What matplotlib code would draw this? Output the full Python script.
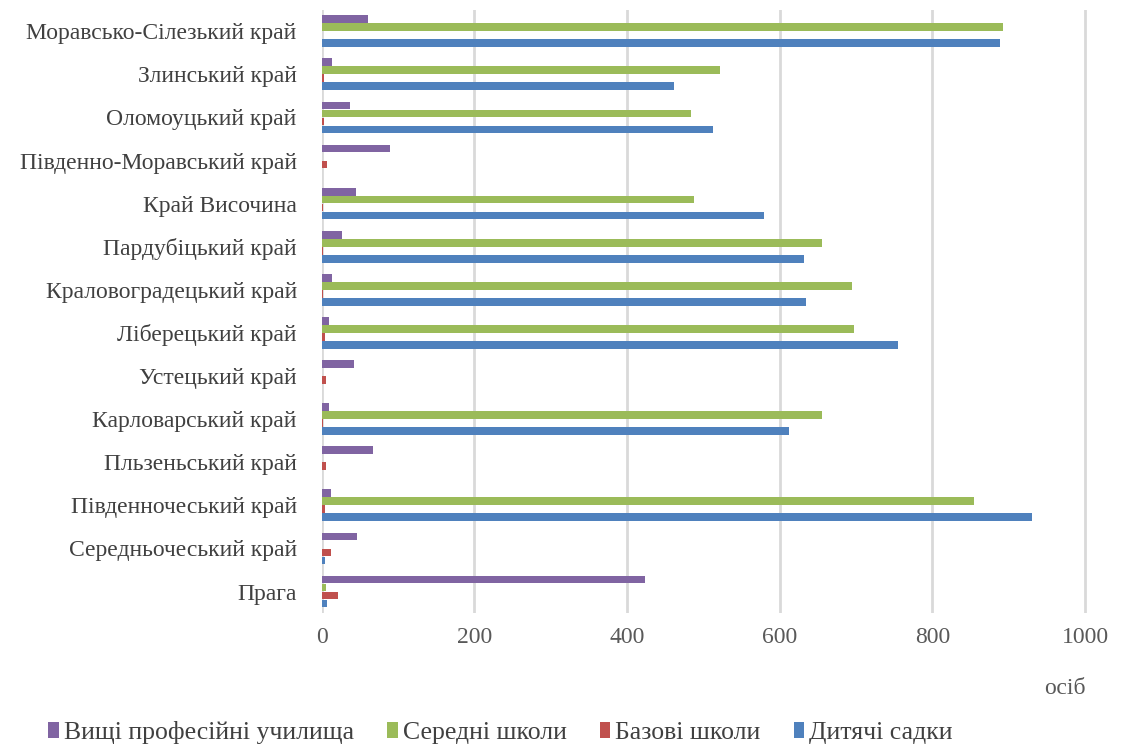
import numpy as np
import matplotlib.pyplot as plt

plt.rcParams['font.family'] = ['Liberation Serif', 'DejaVu Serif']

regions = ["Прага", "Середньочеський край", "Південночеський край", "Пльзеньський край",
           "Карловарський край", "Устецький край", "Ліберецький край", "Краловоградецький край",
           "Пардубіцький край", "Край Височина", "Південно-Моравський край", "Оломоуцький край",
           "Злинський край", "Моравсько-Сілезький край"]

# values in persons
kindergartens = [7, 4, 931, 0, 612, 0, 755, 635, 632, 579, 0, 512, 462, 888]
basic_schools = [21, 12, 4, 6, 2, 6, 4, 2, 2, 2, 7, 3, 3, 0]
secondary = [5, 0, 855, 0, 655, 0, 697, 695, 655, 488, 0, 484, 522, 892]
higher_prof = [423, 46, 12, 67, 9, 42, 9, 14, 26, 45, 90, 37, 13, 60]

series = [("Дитячі садки", kindergartens, "#4F81BD"),
          ("Базові школи", basic_schools, "#C0504D"),
          ("Середні школи", secondary, "#9BBB59"),
          ("Вищі професійні училища", higher_prof, "#8064A2")]

fig = plt.figure(figsize=(11.25, 7.44), dpi=100)
ax = fig.add_axes([0.286, 0.176, 0.692, 0.811])

y = np.arange(len(regions))
h = 0.185
bars = []
for i, (name, vals, col) in enumerate(series):
    b = ax.barh(y + (i - 1.5) * h, vals, height=h * 0.97, color=col, label=name, zorder=3)
    bars.append(b)

ax.set_xlim(0, 1020)
ax.set_ylim(-0.5, len(regions) - 0.5)
ax.set_xticks([0, 200, 400, 600, 800, 1000])
ax.set_yticks(y)
ax.set_yticklabels(regions, fontsize=17, color="#404040")
ax.tick_params(axis='x', labelsize=17, colors="#595959", length=0, pad=10)
ax.tick_params(axis='y', length=0, pad=18)
ax.grid(axis='x', color="#d9d9d9", lw=2, zorder=0)
for s in ax.spines.values():
    s.set_visible(False)

fig.text(0.965, 0.075, "осіб", fontsize=17, color="#595959", ha='right', va='center')

handles = bars[::-1]
fig.legend(handles, [s[0] for s in series[::-1]], loc='center', bbox_to_anchor=(0.445, 0.015),
           ncol=4, frameon=False, fontsize=18.5, handlelength=0.4, handleheight=0.6,
           handletextpad=0.2, columnspacing=1.3, labelcolor="#404040")

fig.savefig("out.png", dpi=100)
